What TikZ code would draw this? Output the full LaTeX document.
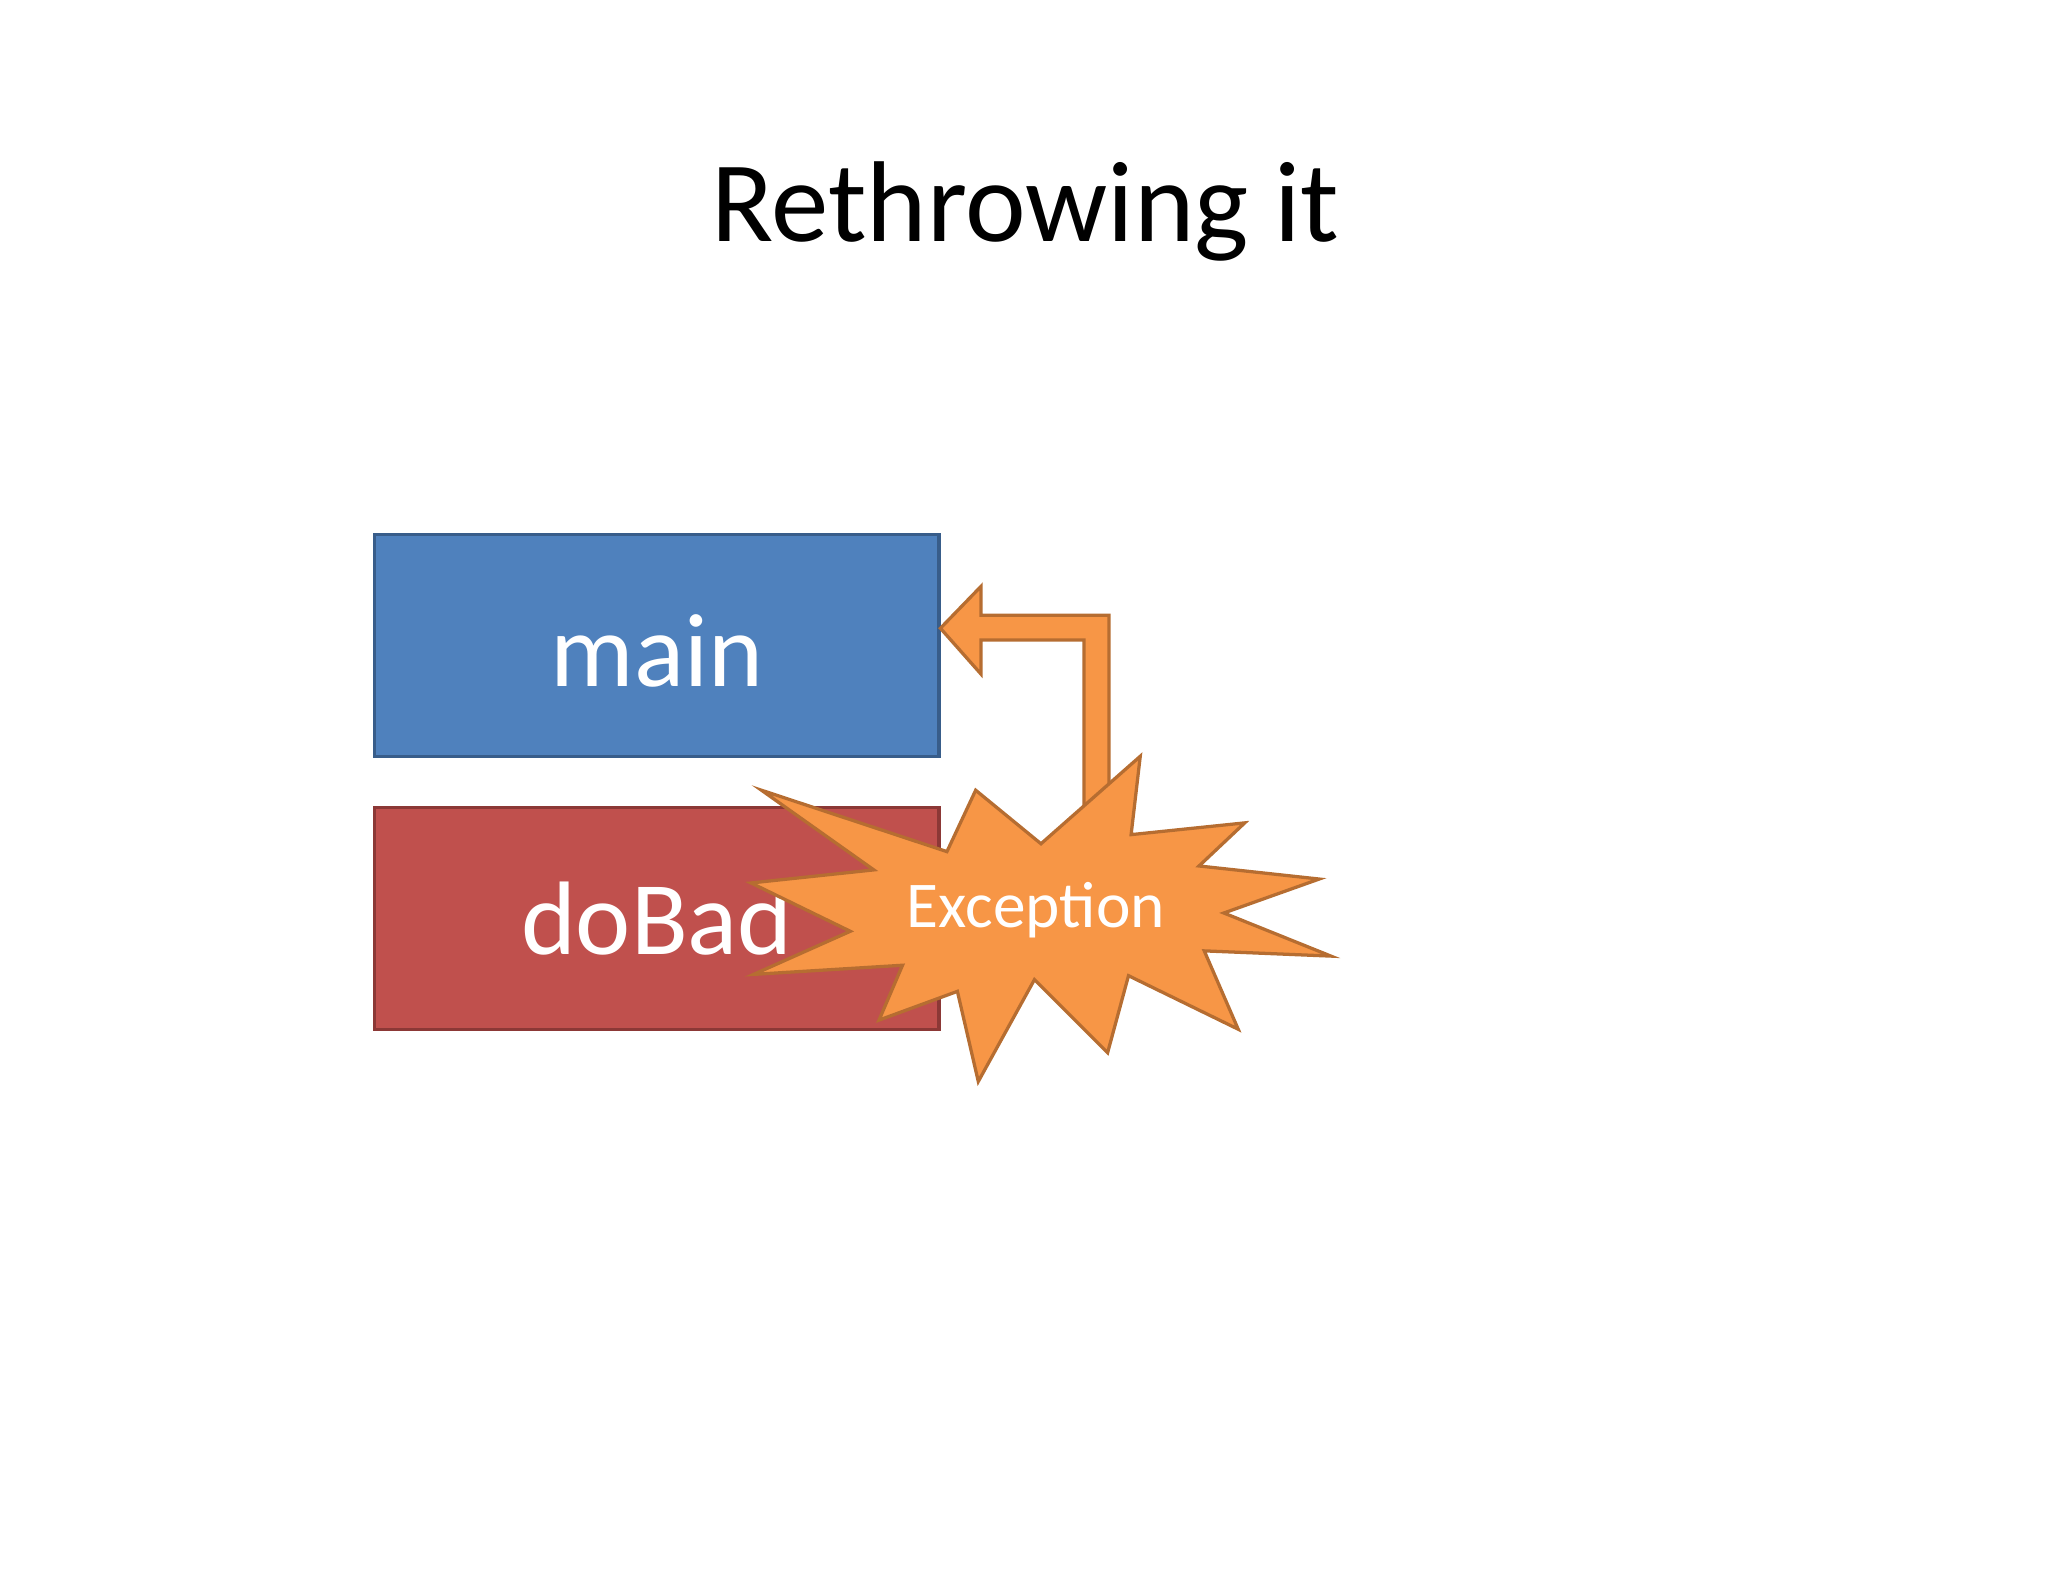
\documentclass[tikz,border=0pt]{standalone}
\usepackage{fontspec}
\setmainfont{Carlito}
\definecolor{bluef}{HTML}{4F81BD}\definecolor{blued}{HTML}{385D8A}
\definecolor{redf}{HTML}{C0504D}\definecolor{redd}{HTML}{8C3836}
\definecolor{orf}{HTML}{F79646}\definecolor{ord}{HTML}{B66D31}
\begin{document}
\begin{tikzpicture}[x=1pt,y=-1pt,
  box/.style={draw=#1,line width=2.5pt},
  lbl/.style={text=white,font=\fontsize{80}{90}\selectfont}]
\useasboundingbox (0,0) rectangle (1568,1211);
\node[font=\fontsize{88}{100}\selectfont] (title) at (785,162) {Rethrowing it};
\filldraw[box=blued,fill=bluef] (287,409) rectangle (719,579);
\node[lbl] (main) at (503,498) {main};
\filldraw[box=redd,fill=redf] (287,618) rectangle (719,788);
\node[lbl] (dobad) at (503,703) {doBad};
\filldraw[draw=ord,fill=orf,line width=2.5pt,line join=miter]
 (720,481) -- (751,449) -- (751,471) -- (849,471) -- (849,610) -- (830,625) -- (830,490) -- (751,490) -- (751,516) -- cycle;
\filldraw[draw=ord,fill=orf,line width=2.5pt,line join=miter]
 (583,605)--(725,652)--(747,605)--(797,646)--(873,579)--(866,639)--(953,630)--(918,663)--(1010,673)--(937,699)--(1019,732)--(922,728)--(948,788)--(864,747)--(848,806)--(792,750)--(749,828)--(733,759)--(673,781)--(691,739)--(577,746)--(651,713)--(575,676)--(669,666)--cycle;
\node[text=white,font=\fontsize{50}{60}\selectfont] (exc) at (793,697) {Exception};
\end{tikzpicture}
\end{document}
